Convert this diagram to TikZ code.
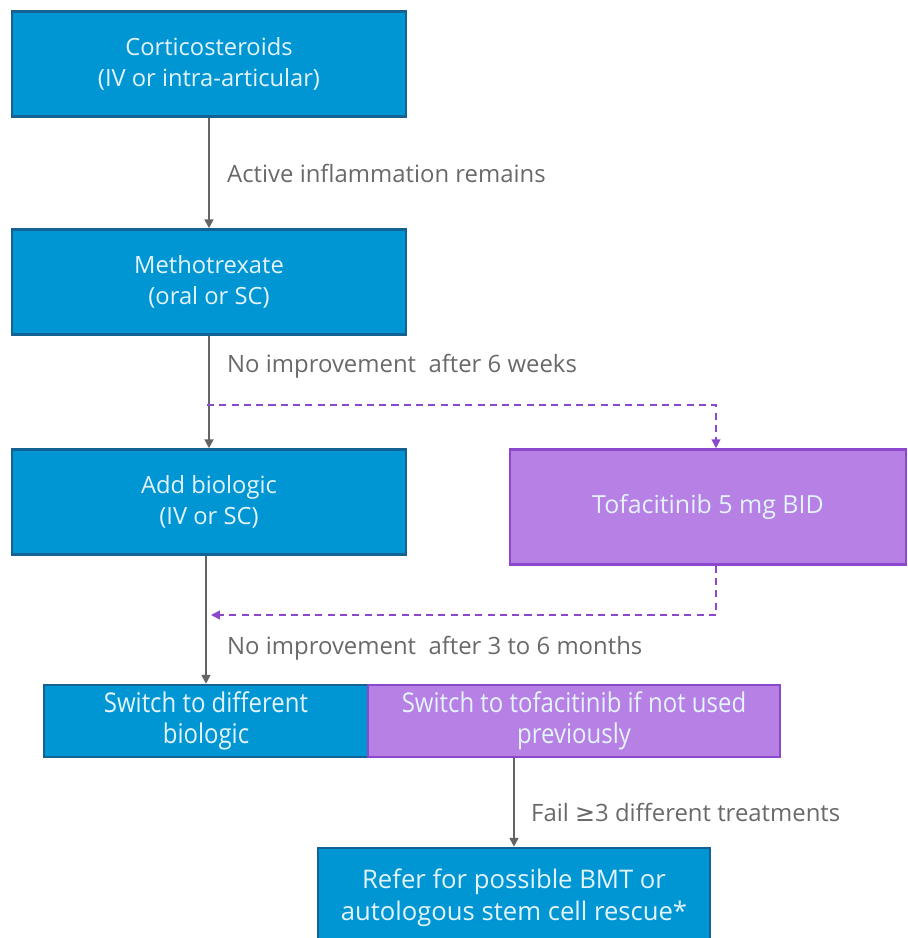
\documentclass[tikz,border=0pt]{standalone}
\usepackage{fontspec}
\setmainfont{Open Sans}
\newfontfamily\symfont{DejaVu Sans}
\newfontfamily\narrowfont[FakeStretch=0.88]{Open Sans}
\usetikzlibrary{arrows.meta}
\definecolor{txblue}{RGB}{0,150,212}
\definecolor{txblueline}{RGB}{18,98,148}
\definecolor{txpurple}{RGB}{182,128,228}
\definecolor{txpurpleline}{RGB}{140,72,205}
\definecolor{txgray}{RGB}{100,100,100}
\definecolor{txlabel}{RGB}{105,105,105}
\definecolor{txtext}{RGB}{228,244,252}

\begin{document}
\begin{tikzpicture}[x=0.02cm, y=-0.02cm,
  bluebox/.style={draw=txblueline, fill=txblue, line width=1.5pt, text=txtext, align=center,
    font=\fontsize{13.5}{17.5}\selectfont},
  purplebox/.style={draw=txpurpleline, fill=txpurple, line width=1.5pt, text=txtext, align=center,
    font=\fontsize{13.5}{17.5}\selectfont},
  flow/.style={-{Triangle[length=5pt,width=5pt]}, txgray, line width=1.1pt},
  altflow/.style={-{Triangle[length=5pt,width=5pt]}, txpurpleline, line width=0.8pt, dash pattern=on 4pt off 3pt},
  steplabel/.style={anchor=west, text=txlabel, font=\fontsize{13.6}{15}\selectfont}]
\path[use as bounding box, clip] (0,0) rectangle (908,938);
% Main treatment boxes
\node[bluebox, minimum width=7.88cm, minimum height=2.1cm] (cort) at (209,64) {Corticosteroids\\(IV or intra-articular)};
\node[bluebox, minimum width=7.88cm, minimum height=2.1cm] (mtx) at (209,282) {Methotrexate\\(oral or SC)};
\node[bluebox, minimum width=7.88cm, minimum height=2.1cm] (bio) at (209,502) {Add biologic\\(IV or SC)};
\node[purplebox, minimum width=7.92cm, minimum height=2.3cm, font=\fontsize{14.2}{17.5}\selectfont] (tofa) at (708,507) {Tofacitinib 5 mg BID};
% Switch step, two halves
\node[bluebox, minimum width=6.48cm, minimum height=1.44cm, font=\narrowfont\fontsize{15.5}{18}\selectfont] (swbio) at (206,721) {Switch to different\\biologic};
\node[purplebox, minimum width=8.24cm, minimum height=1.44cm, font=\narrowfont\fontsize{15.5}{18}\selectfont] (swtofa) at (574,721) {Switch to tofacitinib if not used\\previously};
\node[bluebox, minimum width=7.84cm, minimum height=2.0cm, font=\fontsize{14.6}{18}\selectfont] (refer) at (514,898) {Refer for possible BMT or\\autologous stem cell rescue*};
% Arrows
\draw[flow] (cort) -- (mtx);
\node[steplabel] (lblactive) at (221,173) {Active inflammation remains};
\draw[flow] (mtx) -- (bio);
\node[steplabel] (lblsix) at (221,366) {No improvement\ \ after 6 weeks};
\draw[flow] (bio.south -| swbio.north) -- (swbio);
\node[steplabel] (lblmonths) at (221,648) {No improvement\ \ after 3 to 6 months};
\draw[flow] (swtofa.south -| refer.north) -- (refer.north);
\node[steplabel] (lblfail) at (525,812) {Fail {\symfont ≥}3 different treatments};
% Alternative route via tofacitinib
\coordinate (split) at (207,405);
\coordinate (join) at (211,615);
\draw[altflow] (split) -| ([xshift=0.16cm]tofa.north);
\draw[altflow] ([xshift=0.16cm]tofa.south) |- (join);
\end{tikzpicture}
\end{document}
